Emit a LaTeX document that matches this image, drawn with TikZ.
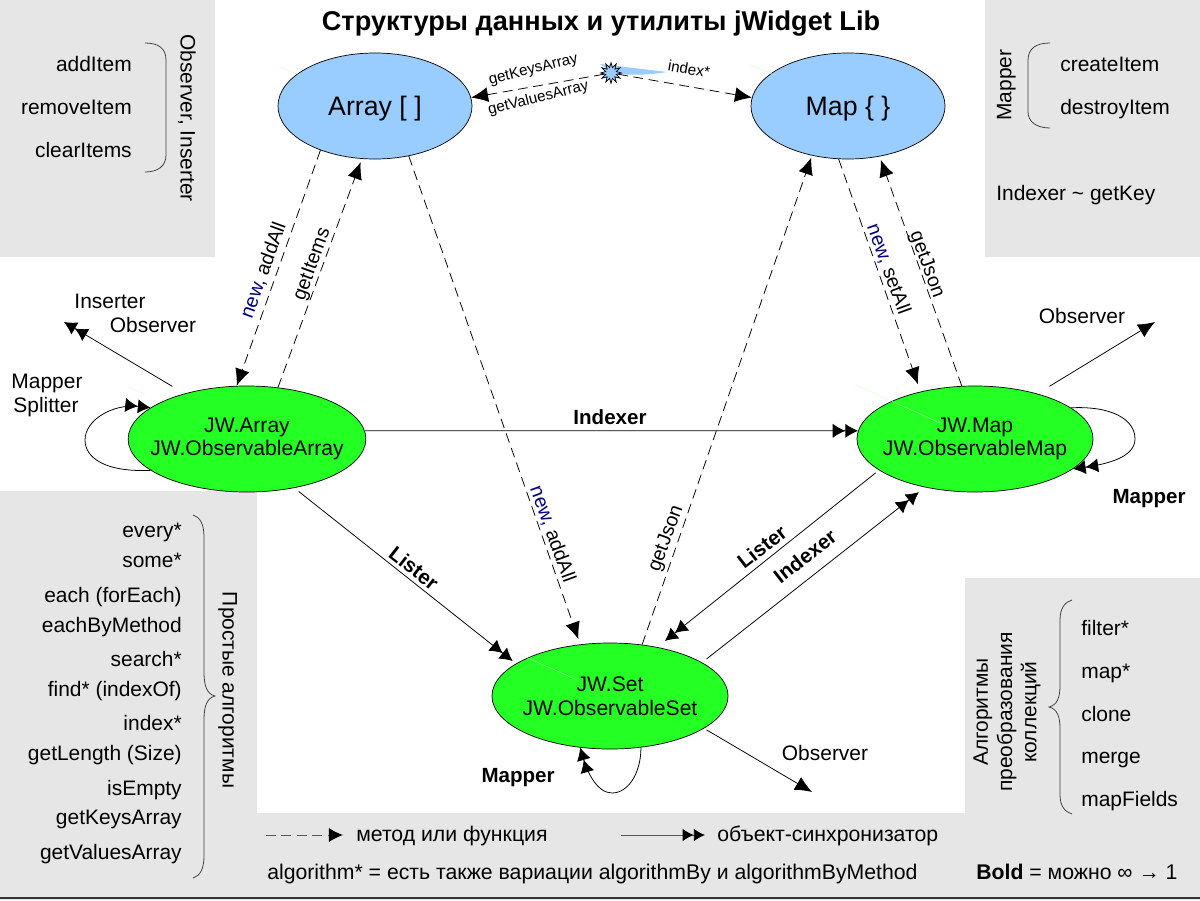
\documentclass[tikz,border=0pt]{standalone}
\usepackage{fontspec}
\usepackage{xcolor}
\setmainfont{Liberation Sans}
\usetikzlibrary{arrows.meta, shapes.geometric}
\definecolor{panelgray}{HTML}{E6E6E6}
\definecolor{dsblue}{HTML}{99CCFF}
\definecolor{jwgreen}{HTML}{24FF24}
\definecolor{newnavy}{HTML}{000080}
\tikzset{
  panel/.style={fill=panelgray, draw=none},
  txt/.style={inner sep=0pt, text height=13.6pt, text depth=3.2pt, font=\fontsize{14.9}{17.3}\selectfont},
  boldtxt/.style={inner sep=0pt, text height=13.6pt, text depth=3.2pt, font=\fontsize{14.6}{17.5}\selectfont\bfseries},
  smalltxt/.style={inner sep=0pt, text height=10pt, text depth=2.3pt, font=\fontsize{10.8}{13}\selectfont},
  midtxt/.style={inner sep=0pt, text height=12pt, text depth=2.9pt, font=\fontsize{14}{16}\selectfont},
  legtxt/.style={txt, text height=13pt, font=\fontsize{15.1}{17.5}\selectfont},
  dsnode/.style={ellipse, draw=black, fill=dsblue, line width=0.5pt, inner sep=0pt,
    minimum width=4.85cm, minimum height=2.65cm, font=\fontsize{19}{22}\selectfont,
    execute at begin node={\rule{0pt}{18pt}}},
  jwnode/.style={ellipse, draw=black, fill=jwgreen, line width=0.5pt, inner ysep=0pt, inner xsep=-9pt, align=center,
    minimum width=5.9cm, minimum height=2.65cm, font=\fontsize{15}{16.8}\selectfont,
    execute at begin node={\rule{0pt}{15.5pt}}},
  method/.style={dash pattern=on 7pt off 4pt, line width=0.55pt, -{Latex[length=12pt,width=10.5pt]}},
  sync/.style={line width=0.55pt, -{Latex[length=9pt,width=10pt]Latex[length=9pt,width=10pt]}},
  plainarr/.style={line width=0.55pt, -{Latex[length=12pt,width=10.5pt]}},
  bracket/.style={line width=0.55pt, draw=black!75},
  glint/.style={line width=0.2pt, draw=green!25},
}
\begin{document}
\begin{tikzpicture}[x=0.025cm, y=-0.025cm]
    \useasboundingbox (0,0) rectangle (1200,900);

    % Gray panels
    \fill[panel] (0,0) rectangle (215,257);
    \fill[panel] (985,0) rectangle (1200,257);
    \fill[panel] (0,491) rectangle (257,900);
    \fill[panel] (257,813) rectangle (965,900);
    \fill[panel] (965,578) rectangle (1200,900);
    \draw[line width=1pt, black!80] (0,898) -- (1200,898);

    % Title
    \node[boldtxt, text height=, text depth=, font=\fontsize{19.3}{22}\selectfont\bfseries] (title) at (601,24) {Структуры данных и утилиты jWidget Lib};

    % Ellipses
    \node[dsnode] (array) at (375,106) {Array [ ]};
    \node[dsnode] (map) at (848,106) {Map \{ \}};
    \node[jwnode] (jwarray) at (247,439) {JW.Array\\JW.ObservableArray};
    \node[jwnode] (jwmap) at (975,439) {JW.Map\\JW.ObservableMap};
    \node[jwnode] (jwset) at (610,696) {JW.Set\\JW.ObservableSet};

    % Thin glints left on the ellipses
    \draw[glint] (856,385) -- (940,423);
    \draw[glint] (492,642) -- (577,680);
    \draw[glint] (128,387) -- (145,394);
    \draw[glint] (750,65) -- (775,75);
    \draw[glint] (280,67) -- (300,75);

    % Index star with its blue wedge
    \fill[dsblue] (600,64) -- (667,72) .. controls (643,76) and (625,75) .. (613,73) -- cycle;
    \node[star, star points=12, star point ratio=1.9, draw=black, fill=dsblue, line width=0.5pt,
      inner sep=0pt, minimum size=0.52cm] (idxstar) at (611,73) {};

    % Free ends of the observer arrows
    \coordinate (obsarray) at (64,322);
    \coordinate (obsmap) at (1155,322);
    \coordinate (obsset) at (812,792);

    % Methods between the ellipses
    \draw[method] (idxstar) -- (array.5);
    \draw[method] (idxstar) -- (map.175);
    \draw[method] (array.219) -- (jwarray.101);
    \draw[method, shorten >=2.5pt] (jwarray.59) -- (array.256);
    \draw[method, shorten >=4pt] (array.304) -- (jwset.120);
    \draw[method, shorten >=1.5pt] (jwset.58) -- (map.234);
    \draw[method, shorten >=5.5pt] (map.260) -- (jwmap.139);
    \draw[method, shorten >=2.5pt] (jwmap.104) -- (map.302);

    % Synchronizers
    \draw[sync] (jwarray.4) -- (jwmap.176);
    \draw[sync, shorten <=4pt, shorten >=3pt] (jwarray.314) -- (jwset.161);
    \draw[sync, shorten <=3pt, shorten >=7pt] (jwmap.198) -- (jwset.46);
    \draw[sync, shorten <=4pt, shorten >=5.5pt] (jwset.20) -- (jwmap.224.5);
    \draw[sync, shorten <=10pt] (jwarray.144) -- (obsarray);
    \draw[plainarr, shorten <=10pt] (jwmap.36) -- (obsmap);
    \draw[plainarr, shorten <=2pt] (jwset.341) -- (obsset);

    % Loops
    \draw[sync] (jwarray.198) .. controls +(-45,2) and +(0,18) .. (85,440) .. controls +(0,-20) and +(-38,-4) .. (jwarray.162);
    \draw[sync] (jwmap.18) .. controls +(40,-2) and +(0,-20) .. (1135,439) .. controls +(0,18) and +(35,-5) .. (jwmap.343);
    \draw[sync] (jwset.301) .. controls +(0,26) and +(16,0) .. (612,793) .. controls +(-15,0) and +(7,24) .. (jwset.240);

    % Top labels
    \node[smalltxt, rotate=14] (keysarr) at (533,68) {getKeysArray};
    \node[smalltxt, rotate=14] (valsarr) at (538,97) {getValuesArray};
    \node[smalltxt, rotate=-10] (idxlbl) at (689,69) {index*};

    % Labels along the arrows
    \node[midtxt, rotate=70] (newaddone) at (263,270) {{\color{newnavy}new,} addAll};
    \node[midtxt, rotate=70] (getitems) at (311,264) {getItems};
    \node[midtxt, rotate=-70] (newaddtwo) at (553,534) {{\color{newnavy}new,} addAll};
    \node[midtxt, rotate=70] (getjsonone) at (665,538) {getJson};
    \node[midtxt, rotate=-70] (newset) at (889,269) {{\color{newnavy}new,} setAll};
    \node[midtxt, rotate=-70] (getjsontwo) at (928,264) {getJson};
    \node[boldtxt] (idxtop) at (610,417) {Indexer};
    \node[boldtxt, rotate=-38] (listerone) at (414,568) {Lister};
    \node[boldtxt, rotate=38] (listertwo) at (762,547) {Lister};
    \node[boldtxt, rotate=38] (idxlow) at (805,556) {Indexer};

    % Labels beside the ellipses
    \node[txt] (insleft) at (110,301) {Inserter};
    \node[txt] (obsleft) at (153,325) {Observer};
    \node[txt] (mapleft) at (47,381) {Mapper};
    \node[txt] (splleft) at (46,405) {Splitter};
    \node[txt] (obsright) at (1082,316) {Observer};
    \node[boldtxt] (mapright) at (1149,496) {Mapper};
    \node[boldtxt] (mapset) at (518,775) {Mapper};
    \node[txt] (obssetlbl) at (825,753) {Observer};

    % Top left panel
    \node[txt, anchor=east] (additem) at (132,64) {addItem};
    \node[txt, anchor=east] (removeitem) at (132,107) {removeItem};
    \node[txt, anchor=east] (clearitems) at (132,150) {clearItems};
    \draw[bracket] (145,43) .. controls (158,43) and (166,48) .. (166,60) -- (166,155) .. controls (166,166) and (158,172) .. (145,172);
    \node[txt, rotate=-90] (obsins) at (188,118) {Observer, Inserter};

    % Top right panel
    \node[txt, rotate=90] (mapperlbl) at (1004,85) {Mapper};
    \draw[bracket] (1050,43) .. controls (1037,43) and (1028,48) .. (1028,60) -- (1028,112) .. controls (1028,122) and (1037,128) .. (1050,128);
    \node[txt, anchor=west] (createitem) at (1060,64) {createItem};
    \node[txt, anchor=west] (destroyitem) at (1060,107) {destroyItem};
    \node[txt, anchor=west] (indexerkey) at (996,193) {Indexer \char`~\ getKey};

    % Left panel
    \node[txt, anchor=east] (every) at (182,530) {every*};
    \node[txt, anchor=east] (some) at (182,560) {some*};
    \node[txt, anchor=east] (each) at (182,595) {each (forEach)};
    \node[txt, anchor=east] (eachby) at (182,625) {eachByMethod};
    \node[txt, anchor=east] (search) at (182,659) {search*};
    \node[txt, anchor=east] (find) at (182,689) {find* (indexOf)};
    \node[txt, anchor=east] (indexs) at (182,723) {index*};
    \node[txt, anchor=east] (getlen) at (182,753) {getLength (Size)};
    \node[txt, anchor=east] (isempty) at (182,788) {isEmpty};
    \node[txt, anchor=east] (getkeys) at (182,817) {getKeysArray};
    \node[txt, anchor=east] (getvals) at (182,852) {getValuesArray};
    \draw[bracket] (193,515) .. controls (200,517) and (204,524) .. (204,537) -- (204,672) .. controls (204,686) and (207,694) .. (215,696) .. controls (207,698) and (204,706) .. (204,720) -- (204,856) .. controls (204,869) and (200,876) .. (193,878);
    \node[txt, rotate=-90] (simple) at (230,690) {Простые алгоритмы};

    % Right panel
    \node[txt, text height=, text depth=, rotate=90, align=center] (transform) at (1007,712) {Алгоритмы\\преобразования\\коллекций};
    \draw[bracket] (1072,600) .. controls (1065,602) and (1060,608) .. (1060,620) -- (1060,685) .. controls (1060,698) and (1057,705) .. (1049,707) .. controls (1057,709) and (1060,716) .. (1060,729) -- (1060,795) .. controls (1060,806) and (1065,812) .. (1072,814);
    \node[txt, anchor=west] (filter) at (1081,628) {filter*};
    \node[txt, anchor=west] (mapst) at (1081,671) {map*};
    \node[txt, anchor=west] (clone) at (1081,714) {clone};
    \node[txt, anchor=west] (merge) at (1081,756) {merge};
    \node[txt, anchor=west] (mapfields) at (1081,799) {mapFields};

    % Legend
    \coordinate (lega) at (266,835);
    \coordinate (legb) at (343,835);
    \coordinate (legc) at (621,835);
    \coordinate (legd) at (705,835);
    \draw[dash pattern=on 7pt off 4pt, line width=0.7pt, black!65, arrows={-{Latex[length=10pt,width=10pt,black]}}] (lega) -- (legb);
    \draw[line width=0.7pt, black!65, arrows={-{Latex[length=8pt,width=9pt,black]Latex[length=8pt,width=9pt,black]}}] (legc) -- (legd);
    \node[legtxt, anchor=west] (legmeth) at (356,835) {метод или функция};
    \node[legtxt, anchor=west] (legsync) at (717,835) {объект-синхронизатор};
    \node[legtxt, anchor=west] (legalg) at (267,873) {algorithm* = есть также вариации algorithmBy и algorithmByMethod};
    \node[legtxt, anchor=west] (legbold) at (976,873) {\textbf{Bold} = можно ∞ → 1};
\end{tikzpicture}
\end{document}
